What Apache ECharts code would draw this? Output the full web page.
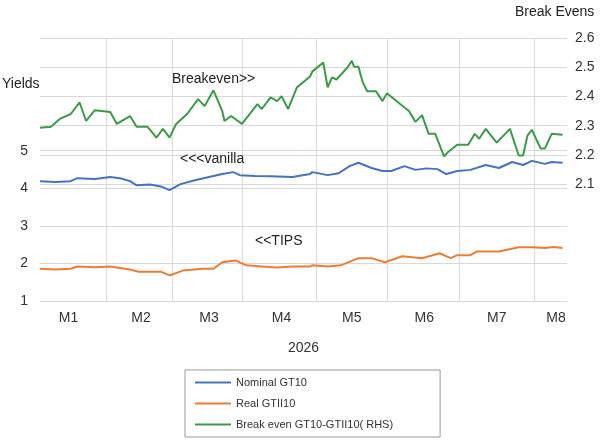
<!DOCTYPE html>
<html><head><meta charset="utf-8">
<script src="https://cdn.jsdelivr.net/npm/echarts@6/dist/echarts.min.js"></script>
<style>html,body{margin:0;padding:0;background:#fff}#c{width:602px;height:445px}</style>
</head><body><div id="c"></div>
<script>
const days = Array.from({length:241},(_,i)=>i);
const monthLabels = {13:'M1',46:'M2',77:'M3',110:'M4',142:'M5',175:'M6',208:'M7',235:'M8'};
const monthBounds = [30,60,92,126,158,191,225];
const nominal = [[0,4.19],[7,4.17],[14,4.19],[17,4.27],[25,4.25],[32,4.30],[37,4.26],[41,4.19],[44,4.08],[50,4.10],[55,4.05],[59,3.95],[64,4.11],[71,4.22],[77,4.30],[83,4.38],[88,4.43],[91,4.35],[98,4.33],[105,4.32],[115,4.30],[123,4.38],[124,4.43],[131,4.35],[136,4.40],[141,4.59],[145,4.68],[151,4.54],[156,4.46],[160,4.46],[166,4.59],[171,4.49],[176,4.53],[181,4.51],[185,4.38],[190,4.46],[196,4.49],[203,4.62],[209,4.54],[215,4.70],[220,4.62],[224,4.73],[230,4.65],[233,4.70],[238,4.68]];
const real = [[0,1.86],[7,1.84],[14,1.86],[17,1.92],[25,1.90],[32,1.92],[41,1.84],[45,1.78],[55,1.78],[59,1.68],[65,1.81],[74,1.86],[79,1.86],[83,2.03],[89,2.08],[94,1.95],[101,1.92],[108,1.89],[115,1.92],[123,1.92],[124,1.95],[131,1.92],[137,1.95],[145,2.14],[151,2.14],[157,2.03],[165,2.19],[174,2.14],[182,2.27],[187,2.14],[190,2.22],[196,2.22],[199,2.32],[203,2.32],[209,2.32],[218,2.43],[224,2.43],[230,2.41],[234,2.44],[238,2.41]];
const breakEven = [[0,2.293],[5,2.296],[9,2.323],[14,2.340],[18,2.380],[21,2.316],[25,2.353],[32,2.347],[35,2.306],[41,2.333],[44,2.296],[49,2.296],[53,2.259],[56,2.289],[59,2.259],[62,2.306],[67,2.340],[72,2.391],[75,2.367],[79,2.421],[83,2.350],[84,2.316],[87,2.333],[92,2.306],[99,2.374],[101,2.357],[105,2.397],[108,2.384],[110,2.401],[113,2.357],[117,2.431],[123,2.468],[124,2.485],[129,2.516],[131,2.431],[133,2.465],[135,2.458],[140,2.499],[142,2.522],[143,2.502],[145,2.502],[147,2.448],[149,2.418],[153,2.418],[156,2.384],[158,2.411],[164,2.374],[168,2.350],[171,2.313],[174,2.336],[177,2.272],[180,2.272],[184,2.195],[186,2.211],[190,2.235],[195,2.235],[198,2.272],[200,2.255],[203,2.289],[208,2.242],[214,2.289],[218,2.198],[220,2.198],[222,2.266],[224,2.286],[228,2.222],[230,2.222],[233,2.272],[238,2.269]];
const leftTicks = [1,2,3,4,5];
const rightTicks = [2.1,2.2,2.3,2.4,2.5,2.6];
const G='#d9d9d9', T='rgba(0,0,0,0)';
const chart = echarts.init(document.getElementById('c'));
const font = 'Liberation Sans, Arial, sans-serif';
const txt = (l,t,s)=>({type:'text',left:l,top:t,z:100,style:{text:s,fontSize:14,fill:'#222',fontFamily:font}});
chart.setOption({
  animation:false,
  grid:{left:40,right:35,top:38,bottom:144},
  xAxis:{type:'category',data:days,boundaryGap:false,
    axisLine:{lineStyle:{color:G}},axisTick:{show:false},
    axisLabel:{interval:(i)=>monthLabels[i]!==undefined,formatter:(v)=>monthLabels[v]||'',color:'#333',fontSize:14,fontFamily:font,margin:10},
    splitLine:{show:true,interval:(i)=>monthBounds.includes(i),lineStyle:{color:G}},
    name:'2026',nameLocation:'middle',nameGap:40,nameTextStyle:{color:'#333',fontSize:14,fontFamily:font}},
  yAxis:[
    {type:'value',min:1,max:8,interval:1,axisLine:{show:false},axisTick:{show:false},
     axisLabel:{formatter:(v)=>leftTicks.includes(v)?String(v):'',color:'#333',fontSize:14,fontFamily:font,margin:12},
     splitLine:{lineStyle:{color:[G,G,G,G,G,T,T,T]}}},
    {type:'value',min:1.7,max:2.6,interval:0.1,position:'right',axisLine:{show:false},
     axisTick:{show:false},
     axisLabel:{formatter:(v)=>{const r=Math.round(v*10)/10;return rightTicks.includes(r)?r.toFixed(1):'';},color:'#333',fontSize:14,fontFamily:font,margin:8},
     splitLine:{lineStyle:{color:[T,T,T,T,G,G,G,G,G,G]}}}
  ],
  legend:{orient:'vertical',left:185,top:370,itemWidth:36,itemHeight:2,itemGap:10,
    borderColor:'#999',borderWidth:1,padding:[7,47,7,10],icon:'rect',
    textStyle:{fontSize:11,color:'#333',fontFamily:font},
    data:['Nominal GT10','Real GTII10','Break even GT10-GTII10( RHS)']},
  series:[
    {name:'Nominal GT10',type:'line',yAxisIndex:0,data:nominal,showSymbol:false,lineStyle:{color:'#4472c4',width:2},itemStyle:{color:'#4472c4'}},
    {name:'Real GTII10',type:'line',yAxisIndex:0,data:real,showSymbol:false,lineStyle:{color:'#ed7d31',width:2},itemStyle:{color:'#ed7d31'}},
    {name:'Break even GT10-GTII10( RHS)',type:'line',yAxisIndex:1,data:breakEven,showSymbol:false,lineStyle:{color:'#3c9a48',width:2},itemStyle:{color:'#3c9a48'}}
  ],
  graphic:[
    txt(2,77,'Yields'), txt(515,5,'Break Evens'), txt(172,72,'Breakeven>>'),
    txt(180,152,'<<<vanilla'), txt(255,234,'<<TIPS')
  ]
});
</script></body></html>
